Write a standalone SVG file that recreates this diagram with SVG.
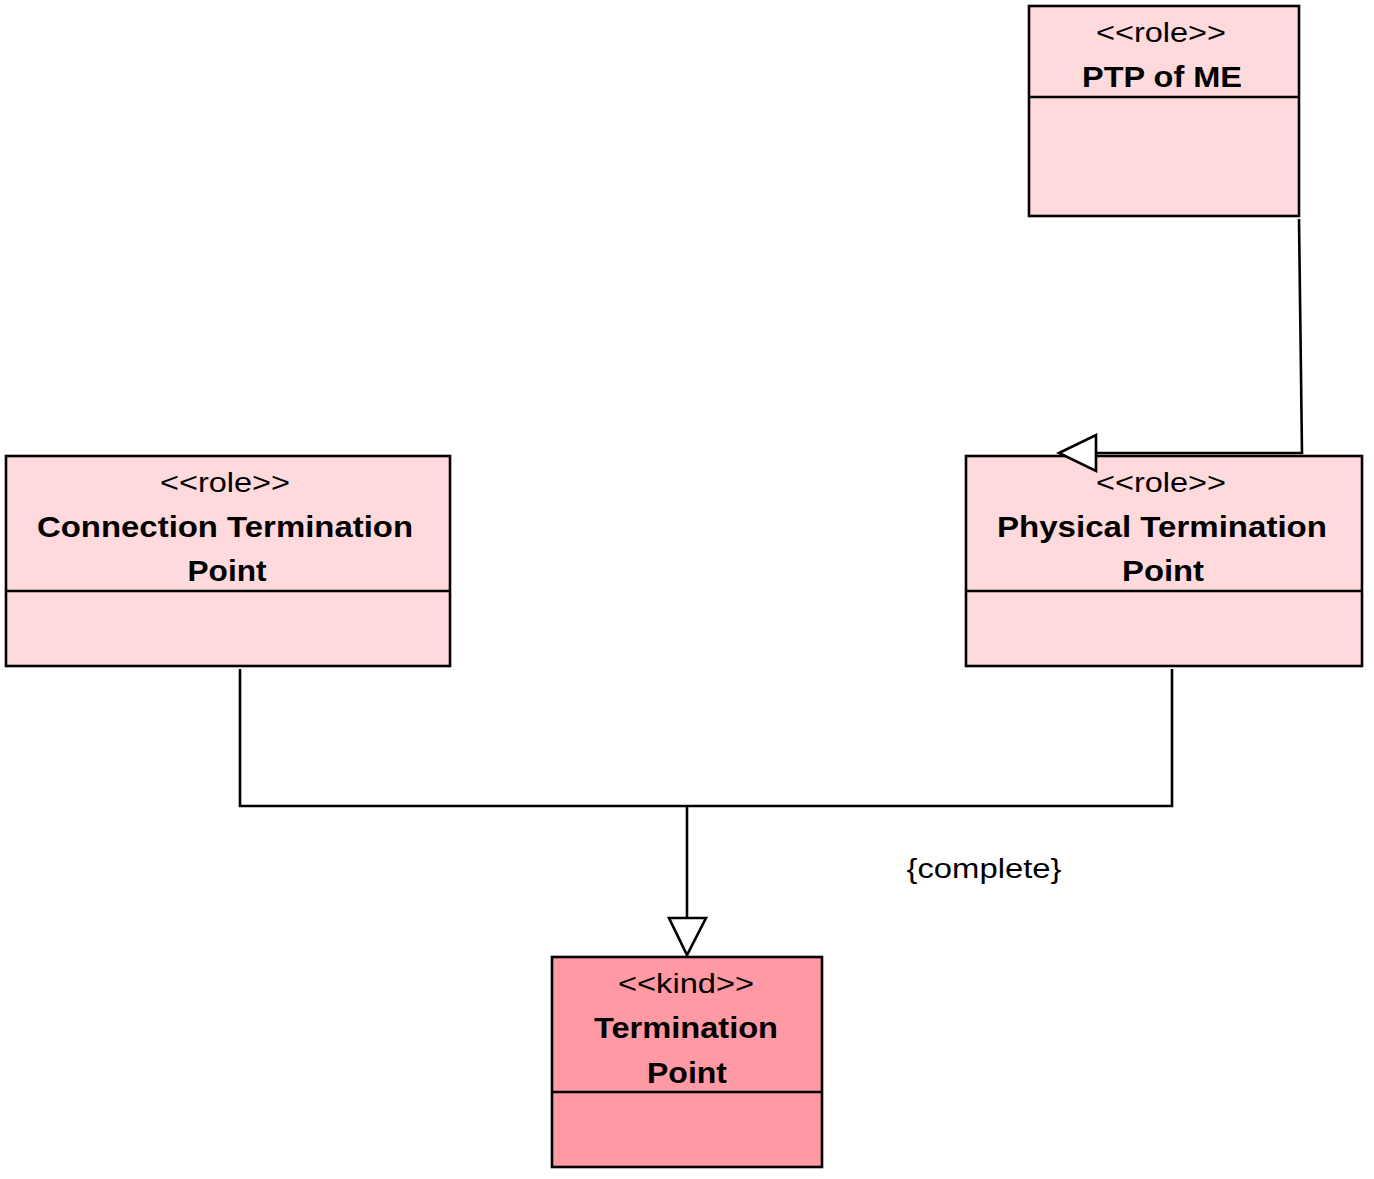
<svg xmlns="http://www.w3.org/2000/svg" width="1374" height="1179" viewBox="0 0 1374 1179">
<style>
.role{fill:#FEDADD;stroke:#000;stroke-width:2.6}
.kind{fill:#FF99A3;stroke:#000;stroke-width:2.6}
.div{stroke:#000;stroke-width:2.6}
.st{font-family:"Liberation Sans",Arial,sans-serif;font-size:27px;text-anchor:middle;fill:#000}
.nm{font-family:"Liberation Sans",Arial,sans-serif;font-size:30px;font-weight:bold;text-anchor:middle;fill:#000}
.ln{fill:none;stroke:#000;stroke-width:2.6}
.hd{fill:#fff;stroke:#000;stroke-width:2.6;stroke-linejoin:miter}
</style>
<rect width="1374" height="1179" fill="#fff"/>
<g id="ptp-of-me">
<rect class="role" x="1029" y="6" width="270" height="210"/>
<line class="div" x1="1029" y1="97" x2="1299" y2="97"/>
<text class="st" x="1161" y="42" textLength="130" lengthAdjust="spacingAndGlyphs">&lt;&lt;role&gt;&gt;</text>
<text class="nm" x="1162" y="87" textLength="160" lengthAdjust="spacingAndGlyphs">PTP of ME</text>
</g>
<g id="connection-termination-point">
<rect class="role" x="6" y="456" width="444" height="210"/>
<line class="div" x1="6" y1="591" x2="450" y2="591"/>
<text class="st" x="225" y="492" textLength="130" lengthAdjust="spacingAndGlyphs">&lt;&lt;role&gt;&gt;</text>
<text class="nm" x="225" y="537" textLength="376" lengthAdjust="spacingAndGlyphs">Connection Termination</text>
<text class="nm" x="227" y="581" textLength="79" lengthAdjust="spacingAndGlyphs">Point</text>
</g>
<g id="physical-termination-point">
<rect class="role" x="966" y="456" width="396" height="210"/>
<line class="div" x1="966" y1="591" x2="1362" y2="591"/>
<text class="st" x="1161" y="492" textLength="130" lengthAdjust="spacingAndGlyphs">&lt;&lt;role&gt;&gt;</text>
<text class="nm" x="1162" y="537" textLength="330" lengthAdjust="spacingAndGlyphs">Physical Termination</text>
<text class="nm" x="1163" y="581" textLength="82" lengthAdjust="spacingAndGlyphs">Point</text>
</g>
<g id="termination-point">
<rect class="kind" x="552" y="957" width="270" height="210"/>
<line class="div" x1="552" y1="1092" x2="822" y2="1092"/>
<text class="st" x="686" y="993" textLength="136" lengthAdjust="spacingAndGlyphs">&lt;&lt;kind&gt;&gt;</text>
<text class="nm" x="686" y="1038" textLength="184" lengthAdjust="spacingAndGlyphs">Termination</text>
<text class="nm" x="687" y="1083" textLength="80" lengthAdjust="spacingAndGlyphs">Point</text>
</g>
<g id="connectors">
<polyline class="ln" points="1299,219 1302,453 1094,453"/>
<polygon class="hd" points="1059,453 1096,435 1096,471"/>
<polyline class="ln" points="240,669 240,806 1172,806 1172,669"/>
<line class="ln" x1="687" y1="806" x2="687" y2="918"/>
<polygon class="hd" points="669,918 706,918 687,955"/>
<text class="st" x="984" y="878" textLength="155" lengthAdjust="spacingAndGlyphs">{complete}</text>
</g>
</svg>
